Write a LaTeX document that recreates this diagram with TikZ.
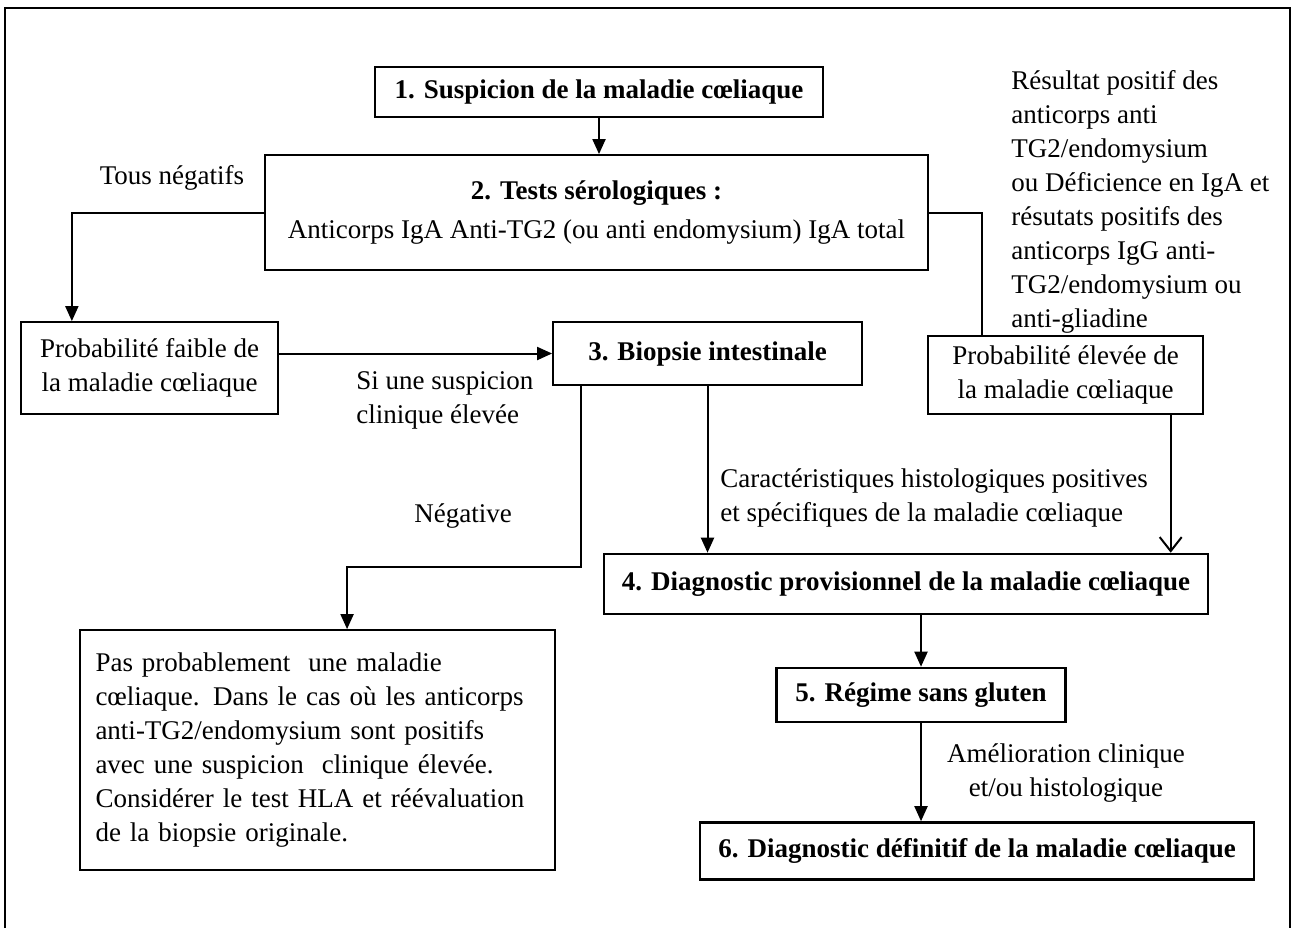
\documentclass[tikz,border=0pt]{standalone}
\usepackage{fontspec}
\setmainfont{Liberation Serif}
\usetikzlibrary{arrows.meta,calc}
\tikzset{
  box/.style={draw,line width=0.9pt,align=center,inner sep=0pt},
  thickbox/.style={box,line width=1.3pt},
  lbl/.style={align=left,inner sep=0pt},
  arr/.style={line width=1pt,-{Triangle[length=7.5pt,width=6.5pt]}},
  openarr/.style={line width=1pt,-{Straight Barb[length=7pt,width=11pt,line width=1pt]}},
  conn/.style={line width=1pt},
}
\begin{document}
\hyphenpenalty=10000 \exhyphenpenalty=10000
\begin{tikzpicture}[x=0.5pt,y=-0.5pt,font=\fontsize{13.5}{17}\selectfont]
\useasboundingbox (0,0) rectangle (1293,928);
\draw[line width=1.2pt] (5,928) -- (5,8) -- (1290,8) -- (1290,928);

\node[thickbox,minimum width=224pt,minimum height=25pt] (b1) at (599,92) {\textbf{1. Suspicion de la maladie cœliaque}};
\node[box,minimum width=331.5pt,minimum height=57.5pt] (b2) at (596.5,212.5) {\textbf{2. Tests sérologiques :}\\[2.5pt]Anticorps IgA Anti-TG2 (ou anti endomysium) IgA total};
\node[box,minimum width=128.5pt,minimum height=46pt] (faible) at (149.5,368) {Probabilité faible de\\la maladie cœliaque};
\node[box,minimum width=154.5pt,minimum height=31.5pt] (b3) at (707.5,353.5) {\textbf{3. Biopsie intestinale}};
\node[box,minimum width=137.5pt,minimum height=39pt] (elevee) at (1065.5,375) {Probabilité élevée de\\la maladie cœliaque};
\node[thickbox,minimum width=302pt,minimum height=30pt] (b4) at (906,584) {\textbf{4. Diagnostic provisionnel de la maladie cœliaque}};
\node[box,minimum width=237.5pt,minimum height=120pt,align=left,text width=222pt,inner xsep=7.75pt] (pas) at (317.5,750) {Pas probablement\ \ une maladie\\cœliaque. Dans le cas où les anticorps\\anti-TG2/endomysium sont positifs\\avec une suspicion\ \ clinique élevée.\\Considérer le test HLA et réévaluation\\de la biopsie originale.};
\node[thickbox,minimum width=144.5pt,minimum height=27pt] (regime) at (921,695) {\textbf{5. Régime sans gluten}};
\node[thickbox,minimum width=277pt,minimum height=28.5pt] (b6) at (977,851) {\textbf{6. Diagnostic définitif de la maladie cœliaque}};

\node[lbl,anchor=north west] (pos) at (1011,70) {Résultat positif des\\anticorps anti\\TG2/endomysium\\ou Déficience en IgA et\\résutats positifs des\\anticorps IgG anti-\\TG2/endomysium ou\\anti-gliadine};
\node[lbl] (tous) at (172,178) {Tous négatifs};
\node[lbl,anchor=west] (si) at (356,400) {Si une suspicion\\clinique élevée};
\node[lbl,anchor=west] (carac) at (720,498) {Caractéristiques histologiques positives\\et spécifiques de la maladie cœliaque};
\node[lbl] (neg) at (463,516) {Négative};
\node[lbl,align=center] (amel) at (1066,773) {Amélioration clinique\\et/ou histologique};

\draw[arr] (b1.south) -- (b1.south |- b2.north);
\coordinate (fa) at ($(faible.north west)!0.2!(faible.north east)$);
\draw[arr] (b2.west) -| (fa);
\coordinate (ea) at ($(elevee.north west)!0.2!(elevee.north east)$);
\draw[conn] (b2.east) -| (ea);
\draw[arr] (faible.east |- b3.west) -- (b3.west);
\draw[arr] (b3.south) -- (b3.south |- b4.north);
\coordinate (es) at ($(elevee.south west)!0.88!(elevee.south east)$);
\draw[openarr] (es) -- (es |- b4.north);
\coordinate (ns) at ($(b3.south west)!0.094!(b3.south east)$);
\coordinate (pn) at ($(pas.north west)!0.562!(pas.north east)$);
\draw[arr] (ns) -- ++(0,181) -| (pn);
\draw[arr] (regime.north |- b4.south) -- (regime.north);
\draw[arr] (regime.south) -- (regime.south |- b6.north);
\end{tikzpicture}
\end{document}
